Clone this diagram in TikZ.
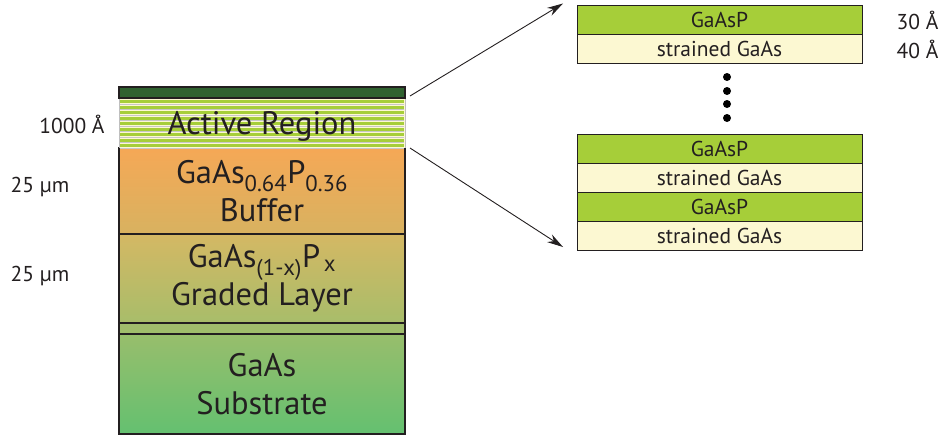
\documentclass[tikz,border=0pt]{standalone}
\usepackage{fontspec}
\setmainfont{PT Sans}
\usetikzlibrary{arrows.meta,positioning}
\definecolor{capgreen}{RGB}{48,98,48}
\definecolor{wellgreen}{RGB}{166,206,57}
\definecolor{cream}{RGB}{252,248,210}
\definecolor{ink}{RGB}{35,31,32}

\begin{document}
\begin{tikzpicture}[x=1pt, y=-1pt,
  every node/.style = {text=ink},
  layer/.style = {minimum width=286pt, inner sep=0pt, outer sep=0pt,
    align=center, font=\fontsize{32.5}{38}\selectfont},
  sub/.style = {layer, draw=ink, line width=2.2pt},
  well/.style = {draw=ink, line width=1pt, minimum width=285pt,
    minimum height=29pt, inner sep=0pt, outer sep=0pt,
    font=\fontsize{21.5}{23}\selectfont},
  barrier/.style = {well, fill=wellgreen},
  quantum/.style = {well, fill=cream},
  thick/.style = {font=\fontsize{21.5}{23}\selectfont},
  zoomarrow/.style = {-{Stealth[length=16pt,width=9pt]}, line width=0.9pt, ink}]
  \useasboundingbox (0,0) rectangle (942,434);

  % substrate stack, bottom to top
  \node[sub, minimum height=100pt, anchor=north west,
    top color={rgb,255:red,152;green,190;blue,108},
    bottom color={rgb,255:red,100;green,192;blue,112}] (substrate) at (119,334)
    {GaAs\\Substrate};
  \node[sub, minimum height=11pt, anchor=south, fill={rgb,255:red,160;green,189;blue,108}]
    (strip) at (substrate.north) {};
  \node[sub, minimum height=89pt, anchor=south,
    top color={rgb,255:red,212;green,184;blue,100},
    bottom color={rgb,255:red,168;green,189;blue,106}] (graded) at (strip.north)
    {GaAs\textsubscript{(1-x)}P\textsubscript{\,x}\\Graded Layer};
  \node[sub, minimum height=86pt, anchor=south,
    top color={rgb,255:red,245;green,168;blue,86},
    bottom color={rgb,255:red,216;green,178;blue,96}] (buffer) at (graded.north)
    {GaAs\textsubscript{0.64}P\textsubscript{0.36}\\Buffer};

  % striped active region
  \node[layer, minimum height=50pt, anchor=south, fill=cream] (active) at (buffer.north) {};
  \foreach \i in {0,...,8}
    \fill[wellgreen] (120,{100.2+5.5*\i}) rectangle (404,{103.2+5.5*\i});
  \foreach \i in {0,...,8}
    \draw[black!22, line width=0.5pt] (120,{104+5.5*\i}) -- (404,{104+5.5*\i});
  \draw[black!25, line width=1pt] (active.north west) -- (active.south west)
    (active.north east) -- (active.south east);
  \node[layer, yshift=-3pt] at (active.center) {Active Region};
  \node[sub, minimum height=11pt, anchor=south, fill=capgreen] (cap) at (active.north) {};

  % thickness labels
  \node[thick] (tact) at (72,124) {1000 Å};
  \node[thick] (tbuf) at (40,187) {25 µm};
  \node[thick] (tgrd) at (40,276) {25 µm};

  % zoomed quantum wells
  \node[barrier] (g1) at (719.5,20) {GaAsP};
  \node[quantum, below=0pt of g1] (s1) {strained GaAs};
  \node[barrier] (g2) at (719.5,148.5) {GaAsP};
  \node[quantum, below=0pt of g2] (s2) {strained GaAs};
  \node[barrier, below=0pt of s2] (g3) {GaAsP};
  \node[quantum, below=0pt of g3] (s3) {strained GaAs};
  \foreach \y in {77,91,104,118}
    \fill[black] (727,\y) circle (4pt);

  \node[thick, anchor=east] (tg) at (942,20) {30 Å};
  \node[thick, anchor=east] (ts) at (942,49) {40 Å};

  \draw[zoomarrow] ([xshift=5pt,yshift=2pt]active.north east) -- ([xshift=-14pt,yshift=2pt]g1.north west);
  \draw[zoomarrow] ([xshift=5pt]active.south east) -- ([xshift=-14pt,yshift=3pt]s3.south west);
\end{tikzpicture}
\end{document}
